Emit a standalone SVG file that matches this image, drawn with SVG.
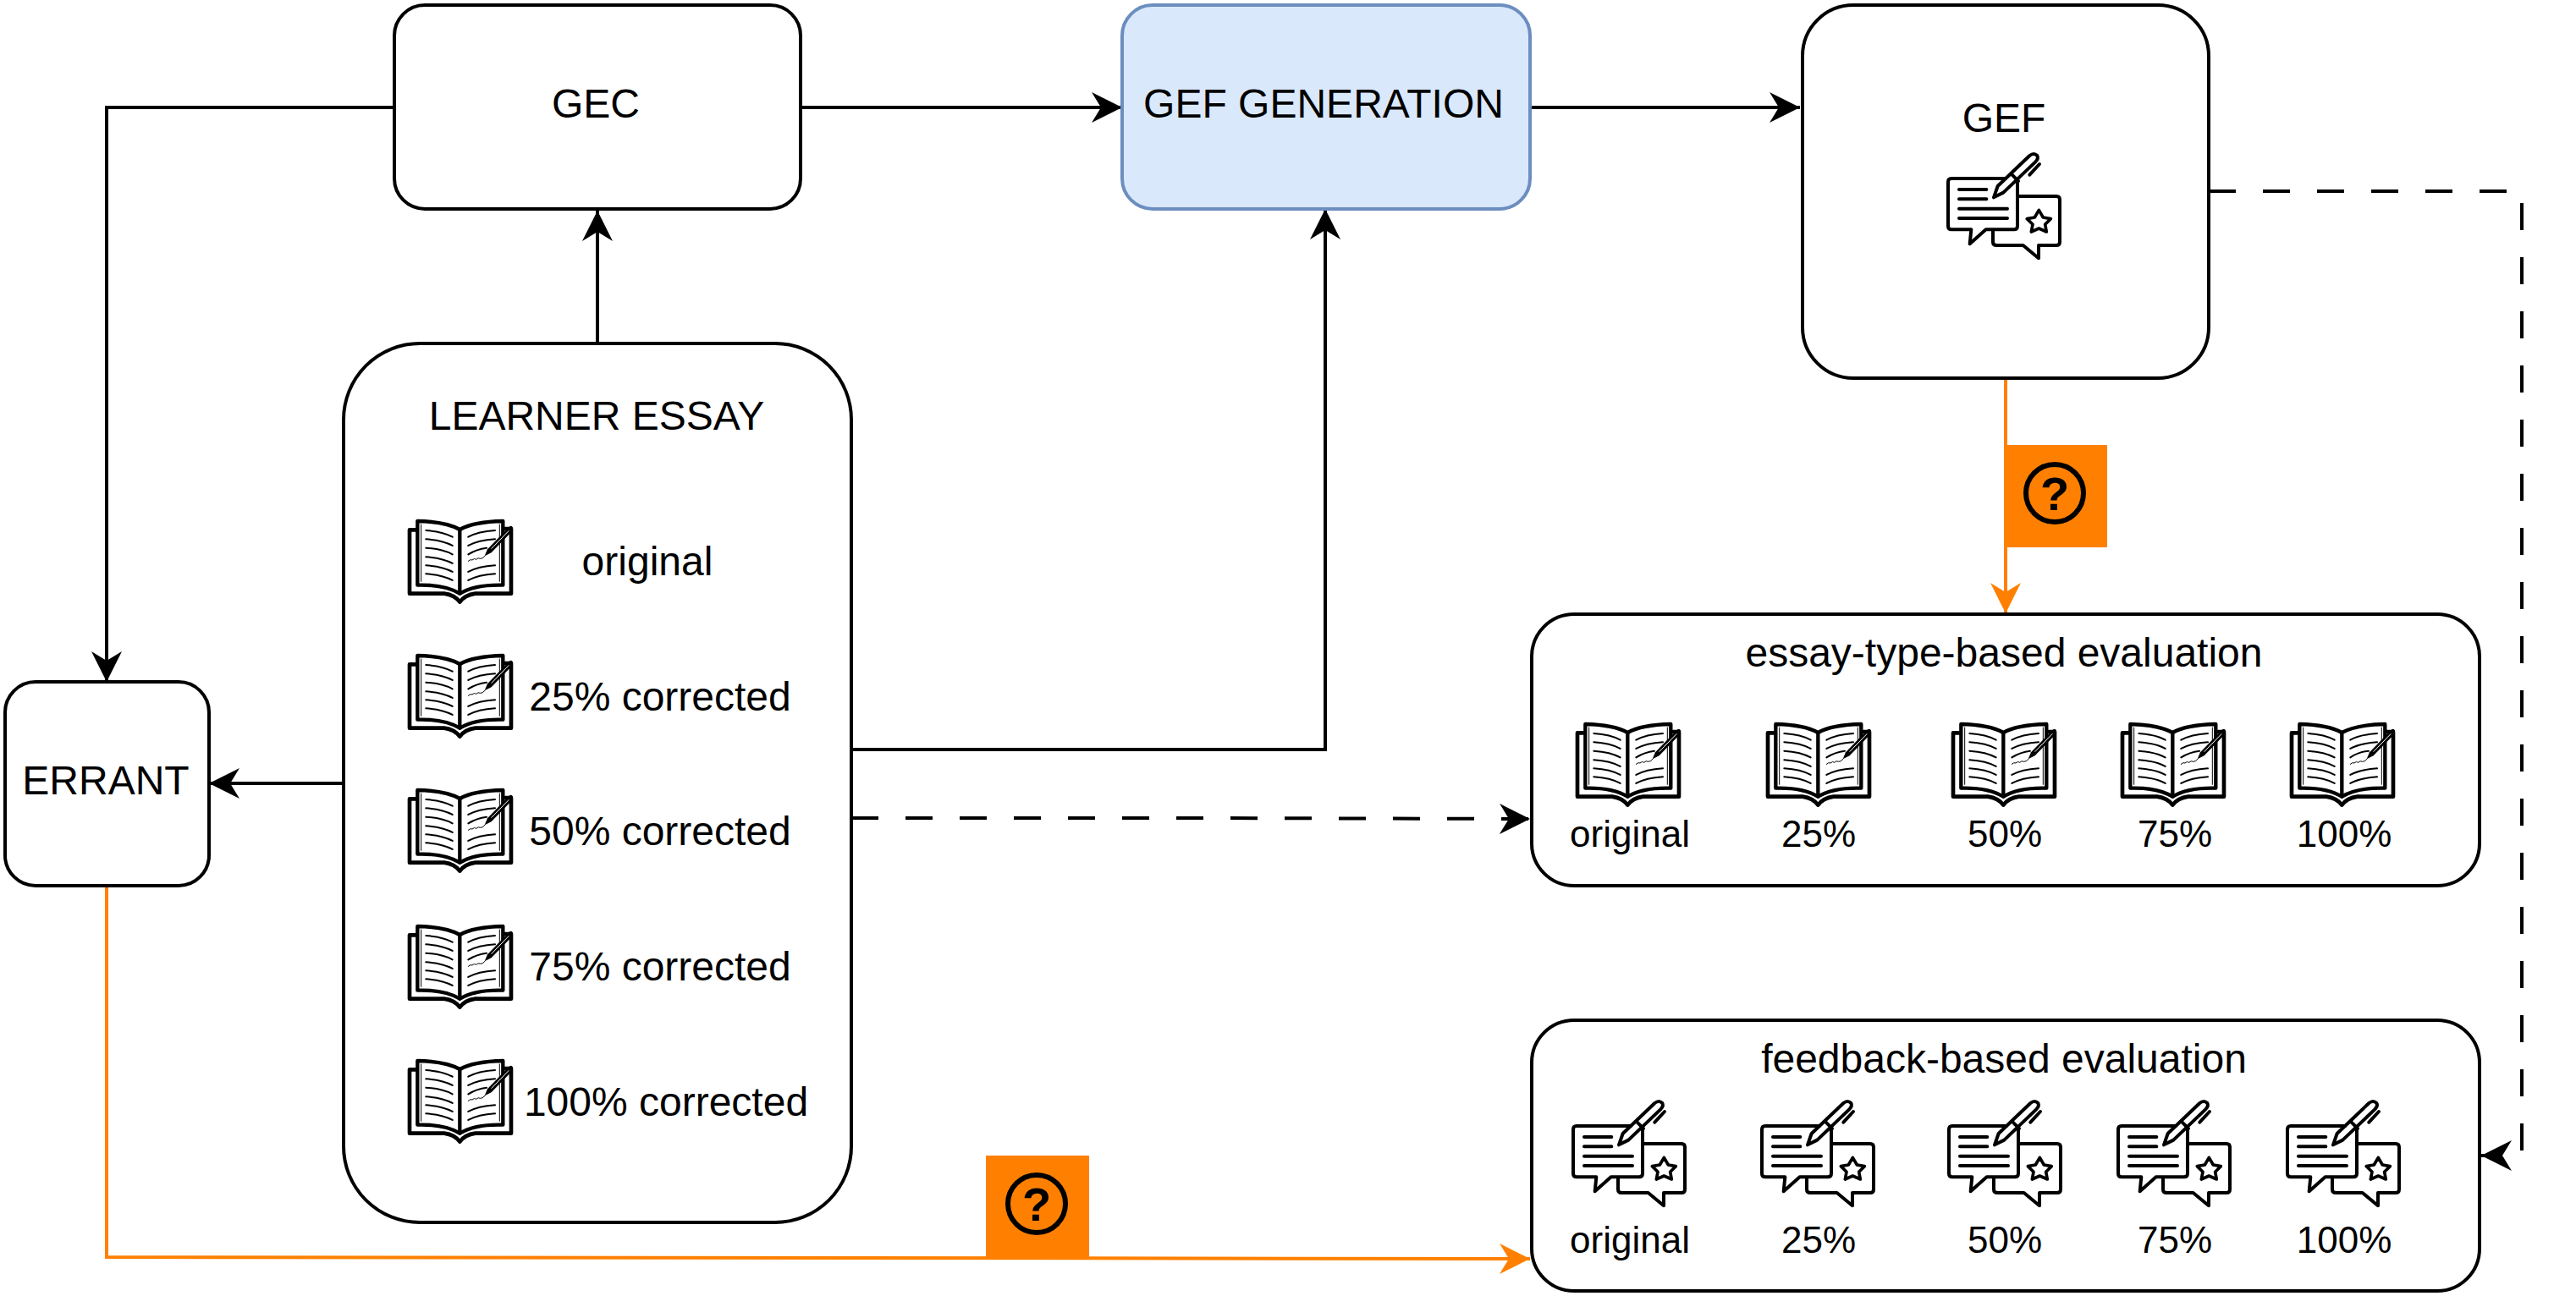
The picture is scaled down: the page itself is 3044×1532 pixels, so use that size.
<svg xmlns="http://www.w3.org/2000/svg" xmlns:xlink="http://www.w3.org/1999/xlink" width="3044" height="1532" viewBox="0 0 3044 1532">
<style>
text{font-family:"Liberation Sans",Arial,sans-serif;font-size:48px;fill:#000;text-anchor:middle}
text.s{font-size:44px}
.box{fill:#fff;stroke:#000;stroke-width:4}
.blue{fill:#dae8fc;stroke:#6c8ebf}
.c{fill:none;stroke:#000;stroke-width:4}
.dash{stroke-dasharray:32 32}
.o{stroke:#ff8000}
text.q{font-weight:bold;font-size:56px}
.i{fill:none;stroke:#000;stroke-linecap:round;stroke-linejoin:round}
</style>
<defs>
<marker id="ab" markerUnits="userSpaceOnUse" markerWidth="40" markerHeight="40" refX="36" refY="18" orient="auto"><path d="M0,0L36,18L0,36L11,18Z" fill="#000"/></marker>
<marker id="ao" markerUnits="userSpaceOnUse" markerWidth="40" markerHeight="40" refX="36" refY="18" orient="auto"><path d="M0,0L36,18L0,36L11,18Z" fill="#ff8000"/></marker>
<g id="book" transform="scale(.3333)">
<path class="i" stroke-width="14" d="M96,79H72V305H195Q232,310 250,335Q268,310 305,305H432V75H408"/>
<path class="i" stroke-width="13" d="M100,48Q200,50 250,78Q300,50 403,48V275Q305,272 250,305Q195,272 100,275Z" style="fill:#fff"/>
<path class="i" stroke-width="13" d="M250,78V305"/>
<path class="i" stroke-width="3" d="M113,60V262M391,60V262"/>
<path class="i" stroke-width="6" d="M130,81Q190,85 224,104M130,112Q190,116 224,135M130,143Q190,147 224,166M130,175Q190,179 224,198M130,205Q190,209 224,228M130,235Q190,239 224,258M280,104Q315,85 375,81M280,135Q315,116 375,112M280,166Q310,147 345,143M280,228Q315,209 375,205M280,258Q315,239 375,235"/>
<path class="i" stroke-width="3" d="M280,190q8,-8 14,-4q8,-8 14,-2q8,-8 14,-3q8,2 18,-10"/>
<path d="M338,172L348,148L425,68Q435,62 437,70L432,88L362,160Z" fill="#000"/>
<path d="M362,146L424,82" stroke="#fff" stroke-width="3" fill="none"/>
</g>
<g id="fb" transform="scale(.3333)">
<path class="i" stroke-width="12" d="M345,216H480Q492,216 492,228V378Q492,390 480,390H417V436L362,390H268Q255,390 255,378V335"/>
<path class="i" stroke-width="12" d="M258,220L272,180L385,72Q400,60 412,72Q418,82 405,95L292,203Z" style="fill:#fff"/>
<path class="i" stroke-width="12" d="M300,153H108Q96,153 96,165V322Q96,334 108,334H178L173,385L230,334H330Q342,334 342,322V165"/>
<path class="i" stroke-width="12" d="M320,137L345,162M385,140L420,102"/>
<path class="i" stroke-width="12" d="M135,192H232M135,226H232M135,260H306M135,294H306"/>
<path class="i" stroke-width="11" d="M418,265L433,291L460,296L440,316L445,342L418,330L391,342L396,316L376,296L403,291Z"/>
</g>
<g id="help"><rect x="0" y="0" width="122" height="121" fill="#ff8000"/><circle cx="60" cy="57" r="34" fill="none" stroke="#000" stroke-width="6"/><text class="q" x="60" y="77">?</text></g>
</defs>

<g id="connectors">
<path class="c" marker-end="url(#ab)" d="M466,127H126V806"/>
<path class="c" marker-end="url(#ab)" d="M946,127H1326"/>
<path class="c" marker-end="url(#ab)" d="M1808,127H2127"/>
<path class="c" marker-end="url(#ab)" d="M706,406V249"/>
<path class="c" marker-end="url(#ab)" d="M1006,886H1566V247"/>
<path class="c" marker-end="url(#ab)" d="M406,926H247"/>
<path class="c dash" marker-end="url(#ab)" d="M1006,967H1418L1808,968"/>
<path class="c dash" marker-end="url(#ab)" d="M2610,226H2980V1366H2932"/>
<path class="c o" marker-end="url(#ao)" d="M2370,447V725"/>
<path class="c o" marker-end="url(#ao)" d="M126,1047V1486L1808,1488"/>
<use id="help1" xlink:href="#help" href="#help" x="2368" y="526"/>
<use id="help2" xlink:href="#help" href="#help" x="1165" y="1366"/>
</g>

<g id="node-gec"><rect class="box" x="466" y="6" width="480" height="241" rx="36"/><text x="704" y="139">GEC</text></g>
<g id="node-gefgen"><rect class="box blue" x="1326" y="6" width="482" height="241" rx="36"/><text x="1564" y="139">GEF GENERATION</text></g>
<g id="node-gef"><rect class="box" x="2130" y="6" width="480" height="441" rx="60"/><text x="2368" y="156">GEF</text><use href="#fb" x="2270" y="160"/></g>
<g id="node-errant"><rect class="box" x="6" y="806" width="241" height="241" rx="36"/><text x="125" y="939">ERRANT</text></g>
<g id="node-learner"><rect class="box" x="406" y="406" width="600" height="1039" rx="90"/>
<text x="705" y="508">LEARNER ESSAY</text>
<use href="#book" x="460" y="600"/><text x="765" y="680">original</text>
<use href="#book" x="460" y="759"/><text x="780" y="840">25% corrected</text>
<use href="#book" x="460" y="918"/><text x="780" y="999">50% corrected</text>
<use href="#book" x="460" y="1079"/><text x="780" y="1159">75% corrected</text>
<use href="#book" x="460" y="1238"/><text x="787" y="1319">100% corrected</text>
</g>
<g id="node-essay"><rect class="box" x="1810" y="726" width="1120" height="321" rx="50"/>
<text x="2368" y="788">essay-type-based evaluation</text>
<use href="#book" x="1840" y="840"/><use href="#book" x="2065" y="840"/><use href="#book" x="2284" y="840"/><use href="#book" x="2484" y="840"/><use href="#book" x="2684" y="840"/>
<text class="s" x="1926" y="1001">original</text><text class="s" x="2149" y="1001">25%</text><text class="s" x="2369" y="1001">50%</text><text class="s" x="2570" y="1001">75%</text><text class="s" x="2770" y="1001">100%</text>
</g>
<g id="node-feedback"><rect class="box" x="1810" y="1206" width="1120" height="320" rx="50"/>
<text x="2368" y="1268">feedback-based evaluation</text>
<use href="#fb" x="1827" y="1280"/><use href="#fb" x="2050" y="1280"/><use href="#fb" x="2271" y="1280"/><use href="#fb" x="2471" y="1280"/><use href="#fb" x="2671" y="1280"/>
<text class="s" x="1926" y="1481">original</text><text class="s" x="2149" y="1481">25%</text><text class="s" x="2369" y="1481">50%</text><text class="s" x="2570" y="1481">75%</text><text class="s" x="2770" y="1481">100%</text>
</g>
</svg>
